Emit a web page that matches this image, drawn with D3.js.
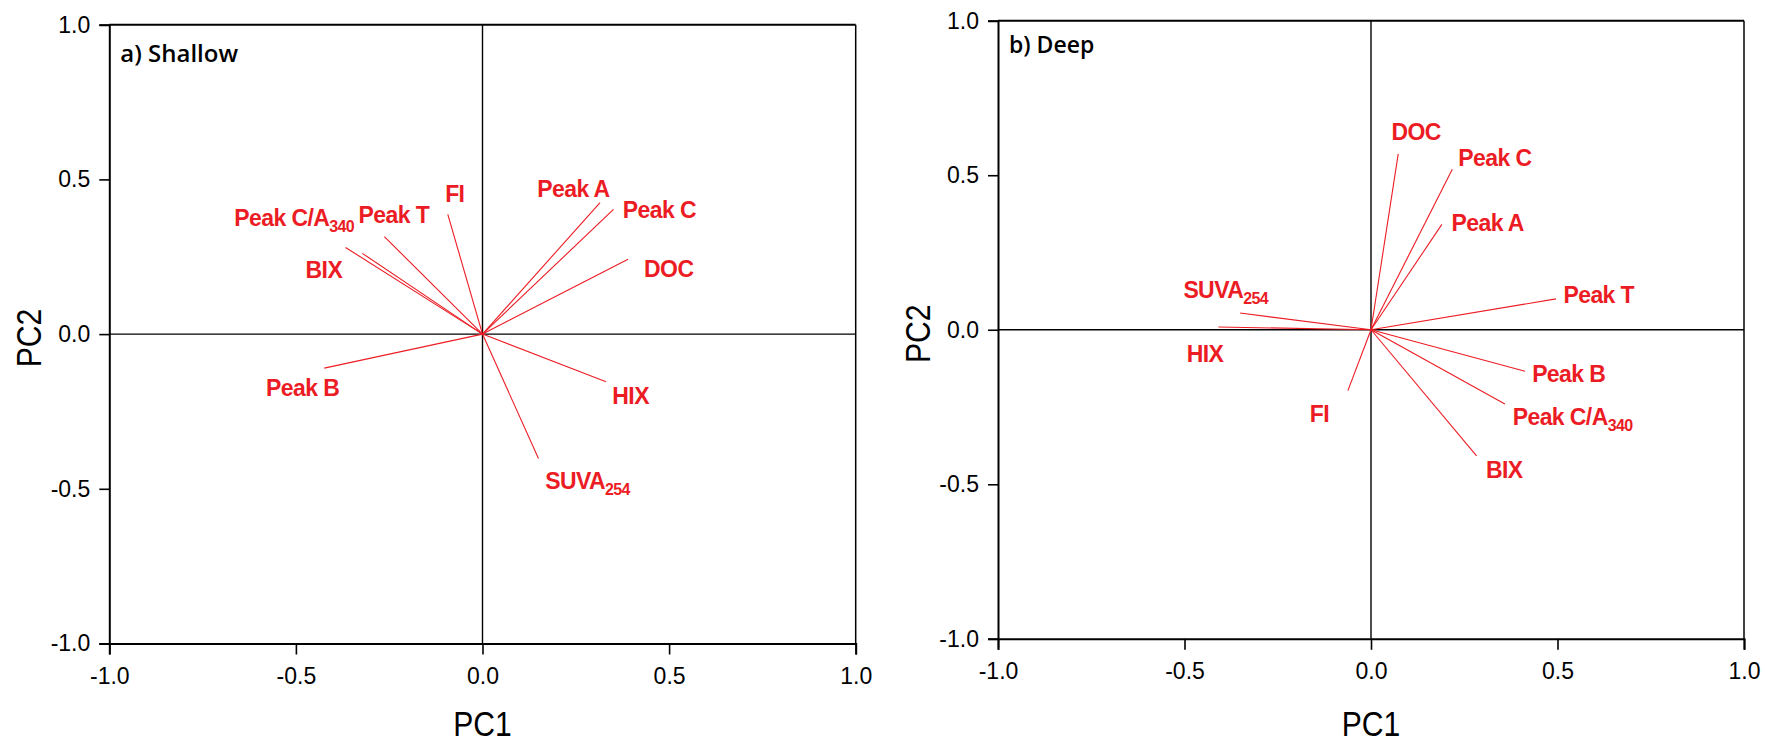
<!DOCTYPE html>
<html>
<head>
<meta charset="utf-8">
<script src="https://cdn.jsdelivr.net/npm/d3@7/dist/d3.min.js"></script>
<style>
  html, body { margin: 0; padding: 0; background: #fff; }
  svg { display: block; }
</style>
</head>
<body>
<svg id="chart" width="1765" height="744"></svg>
<script>
// Variables shown in both biplots
const variables = ["Peak A", "Peak C", "DOC", "FI", "Peak T", "Peak C/A", "BIX", "Peak B", "HIX", "SUVA"];
const subscripts = ["", "", "", "", "", "340", "", "", "", "254"];

// Shallow: loadings on PC1 / PC2
const shallowPC1 = [0.315, 0.351, 0.390, -0.093, -0.263, -0.367, -0.322, -0.424, 0.331, 0.150];
const shallowPC2 = [0.425, 0.403, 0.242, 0.387, 0.315, 0.280, 0.261, -0.110, -0.154, -0.402];
// Shallow: label anchors (PC units)
const shallowLabelX = [0.147, 0.376, 0.433, -0.100, -0.332, -0.665, -0.474, -0.580, 0.348, 0.168];
const shallowLabelY = [0.444, 0.376, 0.184, 0.426, 0.360, 0.349, 0.182, -0.200, -0.227, -0.502];

// Deep: loadings on PC1 / PC2
const deepPC1 = [0.190, 0.218, 0.073, -0.062, 0.496, 0.359, 0.283, 0.413, -0.409, -0.351];
const deepPC2 = [0.341, 0.519, 0.569, -0.197, 0.100, -0.240, -0.408, -0.134, 0.009, 0.054];
// Deep: label anchors (PC units)
const deepLabelX = [0.216, 0.234, 0.055, -0.164, 0.516, 0.380, 0.308, 0.432, -0.494, -0.503];
const deepLabelY = [0.320, 0.530, 0.614, -0.300, 0.086, -0.308, -0.480, -0.168, -0.103, 0.102];

// Axis ticks
const tickValues = [-1.0, -0.5, 0.0, 0.5, 1.0];
const tickLabels = ["-1.0", "-0.5", "0.0", "0.5", "1.0"];

const panels = [
  { title: "a) Shallow", pc1: shallowPC1, pc2: shallowPC2, lx: shallowLabelX, ly: shallowLabelY,
    x0: 109.3, x1: 855.7, y0: 643.5, y1: 24.7, titleSize: 24, titleDx: 11, titleDy: 37 },
  { title: "b) Deep", pc1: deepPC1, pc2: deepPC2, lx: deepLabelX, ly: deepLabelY,
    x0: 998, x1: 1744, y0: 638.8, y1: 20.7, titleSize: 23, titleDx: 11, titleDy: 32.5 }
];

const RED = "#ec1c24";
const svg = d3.select("#chart");
const tickFmt = v => tickLabels[tickValues.indexOf(v)];

panels.forEach(p => {
  const x = d3.scaleLinear().domain([-1, 1]).range([p.x0, p.x1]);
  const y = d3.scaleLinear().domain([-1, 1]).range([p.y0, p.y1]);
  const g = svg.append("g");

  // zero cross-hairs
  g.append("line").attr("x1", x(0)).attr("x2", x(0)).attr("y1", y(-1)).attr("y2", y(1))
    .attr("stroke", "#000").attr("stroke-width", 1.4);
  g.append("line").attr("x1", x(-1)).attr("x2", x(1)).attr("y1", y(0)).attr("y2", y(0))
    .attr("stroke", "#000").attr("stroke-width", 1.4);

  // frame: top and right
  g.append("line").attr("x1", x(-1)).attr("x2", x(1)).attr("y1", y(1)).attr("y2", y(1))
    .attr("stroke", "#000").attr("stroke-width", 2);
  g.append("line").attr("x1", x(1)).attr("x2", x(1)).attr("y1", y(-1)).attr("y2", y(1))
    .attr("stroke", "#000").attr("stroke-width", 1.5);

  // axes
  const ax = g.append("g").attr("transform", `translate(0,${y(-1)})`)
    .call(d3.axisBottom(x).tickValues(tickValues).tickFormat(tickFmt).tickSize(11).tickPadding(13));
  const ay = g.append("g").attr("transform", `translate(${x(-1)},0)`)
    .call(d3.axisLeft(y).tickValues(tickValues).tickFormat(tickFmt).tickSize(10).tickPadding(9));
  [ax, ay].forEach(a => {
    a.select(".domain").attr("stroke", "#000").attr("stroke-width", 2);
    a.selectAll(".tick line").attr("stroke", "#000").attr("stroke-width", 1.6);
    a.selectAll(".tick text").attr("fill", "#000")
      .style("font-family", "'Liberation Sans', Arial, sans-serif").style("font-size", "23px");
  });

  // axis titles
  g.append("text")
    .attr("transform", `translate(${x(0)},736) scale(0.86,1)`)
    .attr("text-anchor", "middle")
    .style("font-family", "'Liberation Sans', Arial, sans-serif").style("font-size", "35px")
    .text("PC1");
  g.append("text")
    .attr("transform", `translate(${x(-1) - 68},${y(0) + 4}) rotate(-90) scale(0.86,1)`)
    .attr("text-anchor", "middle")
    .style("font-family", "'Liberation Sans', Arial, sans-serif").style("font-size", "35px")
    .text("PC2");

  // panel title
  g.append("text")
    .attr("x", x(-1) + p.titleDx).attr("y", y(1) + p.titleDy)
    .style("font-family", "'Open Sans', 'Noto Sans', sans-serif").style("font-weight", 600)
    .style("font-size", p.titleSize + "px")
    .text(p.title);

  // loading vectors
  const idx = d3.range(variables.length);
  g.selectAll("line.vec").data(idx).join("line").attr("class", "vec")
    .attr("x1", x(0)).attr("y1", y(0))
    .attr("x2", i => x(p.pc1[i])).attr("y2", i => y(p.pc2[i]))
    .attr("stroke", RED).attr("stroke-width", 1.1);

  // vector labels
  const lab = g.selectAll("text.lab").data(idx).join("text").attr("class", "lab")
    .attr("x", i => x(p.lx[i])).attr("y", i => y(p.ly[i]))
    .attr("fill", RED)
    .style("font-family", "'Liberation Sans', Arial, sans-serif").style("font-weight", "bold")
    .style("font-size", "23px").style("letter-spacing", "-0.6px");
  lab.append("tspan").text(i => variables[i]);
  lab.filter(i => subscripts[i]).append("tspan")
    .attr("dy", 6).style("font-size", "16px").text(i => subscripts[i]);
});
</script>
</body>
</html>
